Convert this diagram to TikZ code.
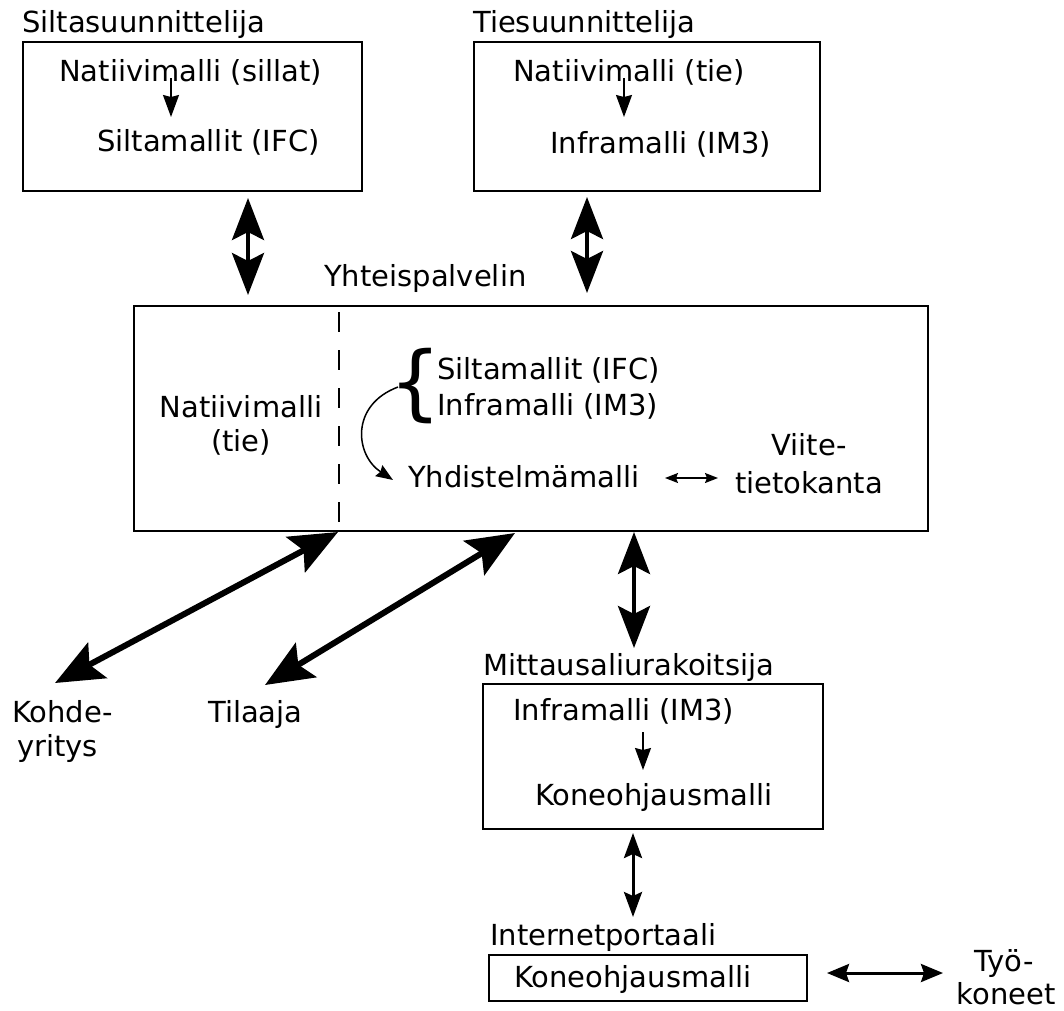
\documentclass[tikz,border=0pt]{standalone}
\usepackage{fontspec}
\setmainfont{DejaVu Sans}
\usetikzlibrary{arrows.meta}
\tikzset{
  lbl/.style={inner sep=0pt, font=\fontsize{29}{34}\selectfont},
  lblw/.style={lbl, anchor=base west},
  lblc/.style={lbl, anchor=base},
  boxnode/.style={draw, line width=2pt, inner sep=0pt, anchor=north west},
  bigarrow/.style={line width=4pt, {Stealth[length=42pt,width=32pt,inset=8pt]}-{Stealth[length=42pt,width=32pt,inset=8pt]}},
  diagarrow/.style={line width=6pt, {Stealth[length=48pt,width=40pt,inset=9pt]}-{Stealth[length=48pt,width=40pt,inset=9pt]}},
  midarrow/.style={line width=3pt, {Stealth[length=25pt,width=18pt,inset=4pt]}-{Stealth[length=25pt,width=18pt,inset=4pt]}},
  smallarrow/.style={line width=1.5pt, -{Stealth[length=22pt,width=16pt,inset=2pt]}},
  curvearrow/.style={line width=1.5pt, -{Stealth[length=17pt,width=13pt,inset=2pt]}},
  tinyarrow/.style={line width=1.5pt, {Stealth[length=13pt,width=10pt,inset=2pt]}-{Stealth[length=13pt,width=10pt,inset=2pt]}},
  sidearrow/.style={line width=3pt, {Stealth[length=22pt,width=18pt,inset=3pt]}-{Stealth[length=22pt,width=18pt,inset=3pt]}},
}
\begin{document}
\begin{tikzpicture}[x=1pt,y=-1pt]
\useasboundingbox (0,0) rectangle (1064,1010);

% top-left: Siltasuunnittelija
\node[lblw] (silta) at (22,32) {Siltasuunnittelija};
\node[boxnode, minimum width=339pt, minimum height=149pt] (box1) at (22,41) {};
\node[lblw] (nat1) at (59,81) {Natiivimalli (sillat)};
\node[lblw] (sm1) at (97,151) {Siltamallit (IFC)};
\coordinate (a1s) at (171,78);
\coordinate (a1e) at (171,117);
\draw[smallarrow] (a1s) -- (a1e);

% top-right: Tiesuunnittelija
\node[lblw] (ties) at (473,32) {Tiesuunnittelija};
\node[boxnode, minimum width=346pt, minimum height=149pt] (box2) at (473,41) {};
\node[lblw] (nat2) at (513,81) {Natiivimalli (tie)};
\node[lblw] (im2) at (550,153) {Inframalli (IM3)};
\coordinate (a2s) at (624,78);
\coordinate (a2e) at (624,117);
\draw[smallarrow] (a2s) -- (a2e);

% big vertical arrows to Yhteispalvelin
\coordinate (b1t) at (248,198);
\coordinate (b1b) at (248,295);
\draw[bigarrow] (b1t) -- (b1b);
\coordinate (b2t) at (587,197);
\coordinate (b2b) at (587,293);
\draw[bigarrow] (b2t) -- (b2b);

% Yhteispalvelin
\node[lblw] (yht) at (324,286) {Yhteispalvelin};
\node[boxnode, minimum width=794pt, minimum height=225pt] (mainbox) at (133,305) {};
\coordinate (dtop) at (339,312);
\coordinate (dbot) at (339,528);
\draw[line width=2pt, dash pattern=on 20pt off 18pt] (dtop) -- (dbot);
\node[lblc] (natm) at (241,417) {Natiivimalli};
\node[lblc] (tiem) at (241,451) {(tie)};
\node[inner sep=0pt, anchor=center, font=\fontsize{82}{82}\selectfont] (brace) at (416,386) {\{};
\node[lblw] (smm) at (437,379) {Siltamallit (IFC)};
\node[lblw] (imm) at (437,415) {Inframalli (IM3)};
\node[lblw] (yhd) at (408,487) {Yhdistelmämalli};
\coordinate (cs) at (398,387);
\coordinate (ce) at (393,480);
\draw[curvearrow] (cs) .. controls (350,405) and (355,455) .. (ce);
\coordinate (ts) at (665,478);
\coordinate (te) at (718,478);
\draw[tinyarrow] (ts) -- (te);
\node[lblc] (viite) at (809,455) {Viite-};
\node[lblc] (tieto) at (809,493) {tietokanta};

% diagonal arrows
\coordinate (d1t) at (338,532);
\coordinate (d1b) at (55,683);
\draw[diagarrow] (d1t) -- (d1b);
\coordinate (d2t) at (515,533);
\coordinate (d2b) at (265,685);
\draw[diagarrow] (d2t) -- (d2b);
\node[lblw] (kohde) at (12,722) {Kohde-};
\node[lblw] (yrit) at (17,756) {yritys};
\node[lblw] (tilaaja) at (208,722) {Tilaaja};

% Mittausaliurakoitsija
\coordinate (b3t) at (634,532);
\coordinate (b3b) at (634,648);
\draw[bigarrow] (b3t) -- (b3b);
\node[lblw] (mitt) at (483,675) {Mittausaliurakoitsija};
\node[boxnode, minimum width=340pt, minimum height=145pt] (box3) at (482,683) {};
\node[lblw] (im3) at (513,720) {Inframalli (IM3)};
\node[lblw] (kon3) at (535,805) {Koneohjausmalli};
\coordinate (a3s) at (643,732);
\coordinate (a3e) at (643,770);
\draw[smallarrow] (a3s) -- (a3e);

% Internetportaali
\coordinate (b4t) at (633,833);
\coordinate (b4b) at (633,917);
\draw[midarrow] (b4t) -- (b4b);
\node[lblw] (inet) at (490,945) {Internetportaali};
\node[boxnode, minimum width=318pt, minimum height=46pt] (box4) at (488,954) {};
\node[lblw] (kon4) at (514,987) {Koneohjausmalli};
\coordinate (r1) at (827,973);
\coordinate (r2) at (943,973);
\draw[sidearrow] (r1) -- (r2);
\node[lblc] (tyo) at (1004,971) {Työ-};
\node[lblc] (kon) at (1006,1004) {koneet};
\end{tikzpicture}
\end{document}
